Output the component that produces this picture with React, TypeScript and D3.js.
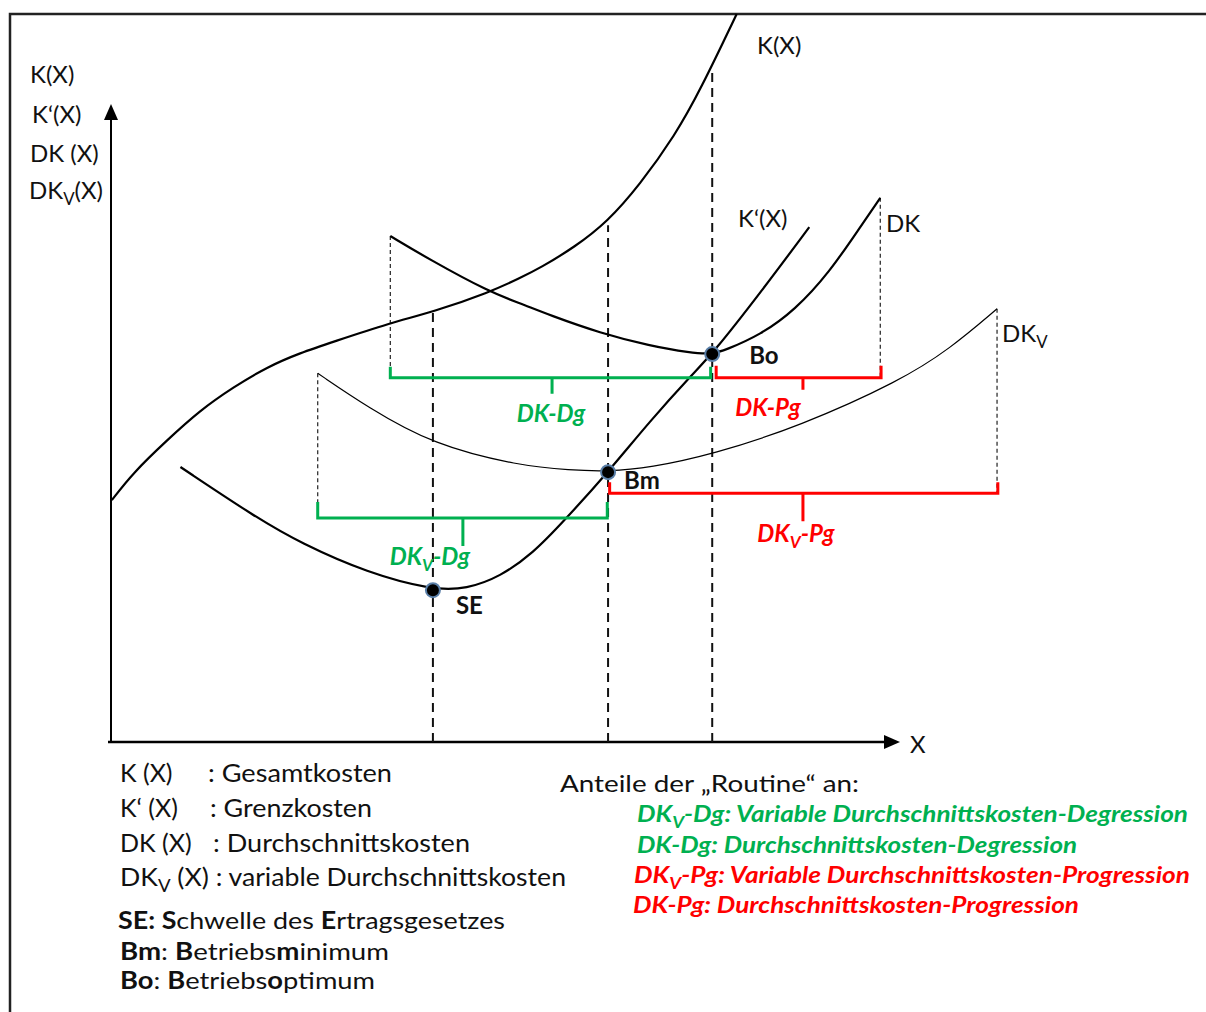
import React, { useEffect, useRef } from 'react'
import * as d3 from 'd3'

// Output quantity X (0..100 = arrow tip) and cost (0..100 = arrow tip)
const kX = [0.1, 2.8, 7.1, 11.3, 15.5, 19.8, 24.0, 28.1, 35.4, 40.8, 48.0, 51.8, 54.4, 58.8, 62.9, 67.0, 71.5, 74.7, 79.3]
const kY = [37.9, 42.2, 47.3, 52.0, 55.6, 58.8, 61.0, 62.7, 65.7, 67.4, 70.5, 72.7, 74.3, 77.6, 81.5, 87.3, 95.1, 102.2, 114.1]

const dkX = [35.4, 40.4, 48.0, 51.8, 55.6, 62.0, 68.3, 73.4, 76.2, 77.8, 82.3, 86.7, 91.1, 94.9, 97.5]
const dkY = [79.3, 75.6, 70.5, 68.8, 66.9, 64.1, 62.1, 61.0, 60.8, 61.4, 63.8, 67.7, 73.7, 80.6, 85.3]

const kpX = [8.8, 18.5, 24.0, 32.5, 40.8, 45.1, 49.3, 53.5, 57.3, 63.0, 68.3, 73.8, 76.2, 82.3, 88.5]
const kpY = [43.1, 35.1, 31.2, 26.5, 23.8, 24.0, 25.9, 29.6, 34.5, 42.3, 50.3, 57.8, 60.8, 70.4, 80.7]

const dkvX = [26.2, 32.5, 40.8, 51.8, 58.2, 63.0, 68.3, 76.3, 87.3, 100.0, 106.3, 112.3]
const dkvY = [57.8, 52.5, 46.6, 43.3, 42.6, 42.4, 43.0, 45.1, 49.5, 56.6, 61.6, 67.9]

const pointNames = ['SE', 'Bm', 'Bo']
const pointX = [40.8, 63.0, 76.2]
const pointY = [23.8, 42.3, 60.8]
const guideTop = [67.4, 81.0, 105.3]

const bracketNames = ['DK-Dg', 'DK-Pg', 'DKv-Dg', 'DKv-Pg']
const bracketFrom = [35.4, 76.7, 26.2, 63.2]
const bracketTo = [76.0, 97.6, 62.9, 112.4]
const bracketLevel = [57.1, 57.1, 35.1, 39.0]
const bracketMid = [55.9, 87.7, 44.6, 87.7]

const GREEN = '#00b050'
const RED = '#ff0000'
const FONT = 'Lato, "Open Sans", sans-serif'

type Part = { t: string; sub?: boolean; bold?: boolean }

const bracketStyle: Record<string, any> = {
  'DK-Dg': { color: GREEN, up: 11, tick: 16, dx: -1, dy: 44, label: [{ t: 'DK-Dg' }] },
  'DK-Pg': { color: RED, up: 12, tick: 12, dx: -35, dy: 38, label: [{ t: 'DK-Pg' }] },
  'DKv-Dg': { color: GREEN, up: 16, tick: 28, dx: -33, dy: 47, label: [{ t: 'DK' }, { t: 'V', sub: true }, { t: '-Dg' }] },
  'DKv-Pg': { color: RED, up: 11, tick: 28, dx: -7, dy: 49, label: [{ t: 'DK' }, { t: 'V', sub: true }, { t: '-Pg' }] },
}

const addText = (g: any, x: number, y: number, parts: Part[], opts: any = {}) => {
  const t = g.append('text')
    .attr('x', x)
    .attr('y', y)
    .attr('font-family', FONT)
    .attr('font-size', opts.size || 24)
    .attr('fill', opts.color || '#111')
    .attr('text-anchor', opts.anchor || 'start')
  if (opts.italic) t.attr('font-style', 'italic')
  if (opts.weight) t.attr('font-weight', opts.weight)
  if (opts.len) t.attr('textLength', opts.len).attr('lengthAdjust', 'spacingAndGlyphs')
  let shifted = false
  parts.forEach(p => {
    const s = t.append('tspan').text(p.t)
    if (p.bold) s.attr('font-weight', 'bold')
    if (p.sub && !shifted) { s.attr('font-size', '0.7em').attr('dy', 6); shifted = true }
    else if (!p.sub && shifted) { s.attr('dy', -6); shifted = false }
    else if (p.sub) s.attr('font-size', '0.7em')
  })
  return t
}

const App = () => {
  const ref = useRef<SVGSVGElement>(null)

  useEffect(() => {
    if (!ref.current) return
    const svg = d3.select(ref.current)
    svg.selectAll('*').remove()

    const x = d3.scaleLinear().domain([0, 100]).range([111, 900])
    const y = d3.scaleLinear().domain([0, 100]).range([742, 104])

    // frame
    svg.append('path')
      .attr('d', 'M10,1012 L10,14 L1206,14')
      .attr('fill', 'none')
      .attr('stroke', '#222')
      .attr('stroke-width', 2.5)

    const g = svg.append('g')

    // axes with arrow heads
    g.append('line').attr('x1', x(0)).attr('x2', x(0)).attr('y1', y(0)).attr('y2', y(100) + 10)
      .attr('stroke', '#000').attr('stroke-width', 2)
    g.append('line').attr('x1', x(0) - 3).attr('x2', x(100) - 10).attr('y1', y(0)).attr('y2', y(0))
      .attr('stroke', '#000').attr('stroke-width', 2.5)
    g.append('path')
      .attr('d', `M${x(0)},${y(100)} L${x(0) - 7},${y(100) + 16} L${x(0) + 7},${y(100) + 16} Z`)
      .attr('fill', '#000')
    g.append('path')
      .attr('d', `M${x(100)},${y(0)} L${x(100) - 16},${y(0) - 7} L${x(100) - 16},${y(0) + 7} Z`)
      .attr('fill', '#000')

    // dashed guides at SE, Bm, Bo
    pointX.forEach((px, i) => {
      g.append('line')
        .attr('x1', x(px)).attr('x2', x(px))
        .attr('y1', y(0)).attr('y2', y(guideTop[i]))
        .attr('stroke', '#111').attr('stroke-width', 2)
        .attr('stroke-dasharray', '9,6')
    })

    // thin dotted drop lines at curve ends
    const drops = [
      [dkX[0], dkY[0], bracketLevel[0]],
      [dkX[dkX.length - 1], dkY[dkY.length - 1], bracketLevel[1]],
      [dkvX[0], dkvY[0], bracketLevel[2]],
      [dkvX[dkvX.length - 1], dkvY[dkvY.length - 1], bracketLevel[3]],
    ]
    drops.forEach(([dx, top, bottom]) => {
      g.append('line')
        .attr('x1', x(dx)).attr('x2', x(dx))
        .attr('y1', y(top)).attr('y2', y(bottom))
        .attr('stroke', '#222').attr('stroke-width', 1.2)
        .attr('stroke-dasharray', '4,3')
    })

    // cost curves
    const line = d3.line<[number, number]>()
      .x(d => x(d[0]))
      .y(d => y(d[1]))
      .curve(d3.curveBasis)
    const curves = [
      { xs: kX, ys: kY, w: 2.2 },
      { xs: dkX, ys: dkY, w: 2.2 },
      { xs: kpX, ys: kpY, w: 2.2 },
      { xs: dkvX, ys: dkvY, w: 1.2 },
    ]
    curves.forEach(c => {
      g.append('path')
        .datum(c.xs.map((v, i) => [v, c.ys[i]] as [number, number]))
        .attr('d', line)
        .attr('fill', 'none')
        .attr('stroke', '#000')
        .attr('stroke-width', c.w)
    })

    // brackets
    bracketNames.forEach((name, i) => {
      const st = bracketStyle[name]
      const x0 = x(bracketFrom[i])
      const x1 = x(bracketTo[i])
      const yy = y(bracketLevel[i])
      const xm = x(bracketMid[i])
      g.append('path')
        .attr('d', `M${x0},${yy - st.up} L${x0},${yy} L${x1},${yy} L${x1},${yy - st.up} M${xm},${yy} L${xm},${yy + st.tick}`)
        .attr('fill', 'none')
        .attr('stroke', st.color)
        .attr('stroke-width', 3)
      addText(g, xm + st.dx, yy + st.dy, st.label, {
        anchor: 'middle', italic: true, weight: 'bold', color: st.color, size: 24,
      })
    })

    // special points
    pointNames.forEach((name, i) => {
      g.append('circle')
        .attr('cx', x(pointX[i]))
        .attr('cy', y(pointY[i]))
        .attr('r', 7)
        .attr('fill', '#000')
        .attr('stroke', '#5a7fa8')
        .attr('stroke-width', 2)
    })
    const pointLabelPos: Record<string, [number, number]> = { SE: [23, 24], Bm: [16, 17], Bo: [37, 10] }
    pointNames.forEach((name, i) => {
      const [dx, dy] = pointLabelPos[name]
      addText(g, x(pointX[i]) + dx, y(pointY[i]) + dy, [{ t: name }], { weight: 'bold', size: 24 })
    })

    // curve labels
    addText(g, 757, 54, [{ t: 'K(X)' }])
    addText(g, 738, 227, [{ t: 'K‘(X)' }])
    addText(g, 886, 232, [{ t: 'DK' }])
    addText(g, 1002, 342, [{ t: 'DK' }, { t: 'V', sub: true }])

    // y axis title stack
    addText(g, 30, 83, [{ t: 'K(X)' }])
    addText(g, 32, 123, [{ t: 'K‘(X)' }])
    addText(g, 30, 162, [{ t: 'DK (X)' }])
    addText(g, 29, 199, [{ t: 'DK' }, { t: 'V', sub: true }, { t: '(X)' }])
    addText(g, 910, 753, [{ t: 'X' }])

    // legend left
    addText(g, 120, 782, [{ t: 'K (X)' }], { size: 25 })
    addText(g, 208, 782, [{ t: ': Gesamtkosten' }], { size: 25, len: 184 })
    addText(g, 120, 817, [{ t: 'K‘ (X)' }], { size: 25 })
    addText(g, 210, 817, [{ t: ': Grenzkosten' }], { size: 25, len: 162 })
    addText(g, 120, 852, [{ t: 'DK (X)' }], { size: 25 })
    addText(g, 213, 852, [{ t: ': Durchschnittskosten' }], { size: 25, len: 257 })
    addText(g, 120, 886, [{ t: 'DK' }, { t: 'V', sub: true }, { t: ' (X) : variable Durchschnittskosten' }], { size: 25, len: 446 })
    addText(g, 118, 929, [
      { t: 'SE: S', bold: true }, { t: 'chwelle des ' }, { t: 'E', bold: true }, { t: 'rtragsgesetzes' },
    ], { size: 24, len: 387 })
    addText(g, 120, 960, [
      { t: 'Bm', bold: true }, { t: ': ' }, { t: 'B', bold: true }, { t: 'etriebs' }, { t: 'm', bold: true }, { t: 'inimum' },
    ], { size: 24, len: 269 })
    addText(g, 120, 989, [
      { t: 'Bo', bold: true }, { t: ': ' }, { t: 'B', bold: true }, { t: 'etriebs' }, { t: 'o', bold: true }, { t: 'ptimum' },
    ], { size: 24, len: 255 })

    // legend right
    addText(g, 560, 792, [{ t: 'Anteile der „Routine“ an:' }], { size: 24, len: 299 })
    const bi = { italic: true, weight: 'bold', size: 23 }
    addText(g, 637, 822, [{ t: 'DK' }, { t: 'V', sub: true }, { t: '-Dg: Variable Durchschnittskosten-Degression' }], { ...bi, color: GREEN, len: 551 })
    addText(g, 637, 853, [{ t: 'DK-Dg: Durchschnittskosten-Degression' }], { ...bi, color: GREEN, len: 440 })
    addText(g, 634, 883, [{ t: 'DK' }, { t: 'V', sub: true }, { t: '-Pg: Variable Durchschnittskosten-Progression' }], { ...bi, color: RED, len: 556 })
    addText(g, 633, 913, [{ t: 'DK-Pg: Durchschnittskosten-Progression' }], { ...bi, color: RED, len: 446 })
  }, [])

  return (
    <svg
      ref={ref}
      width={1206}
      height={1012}
      style={{ position: 'absolute', left: 0, top: 0, background: '#fff' }}
    />
  )
}

export default App
